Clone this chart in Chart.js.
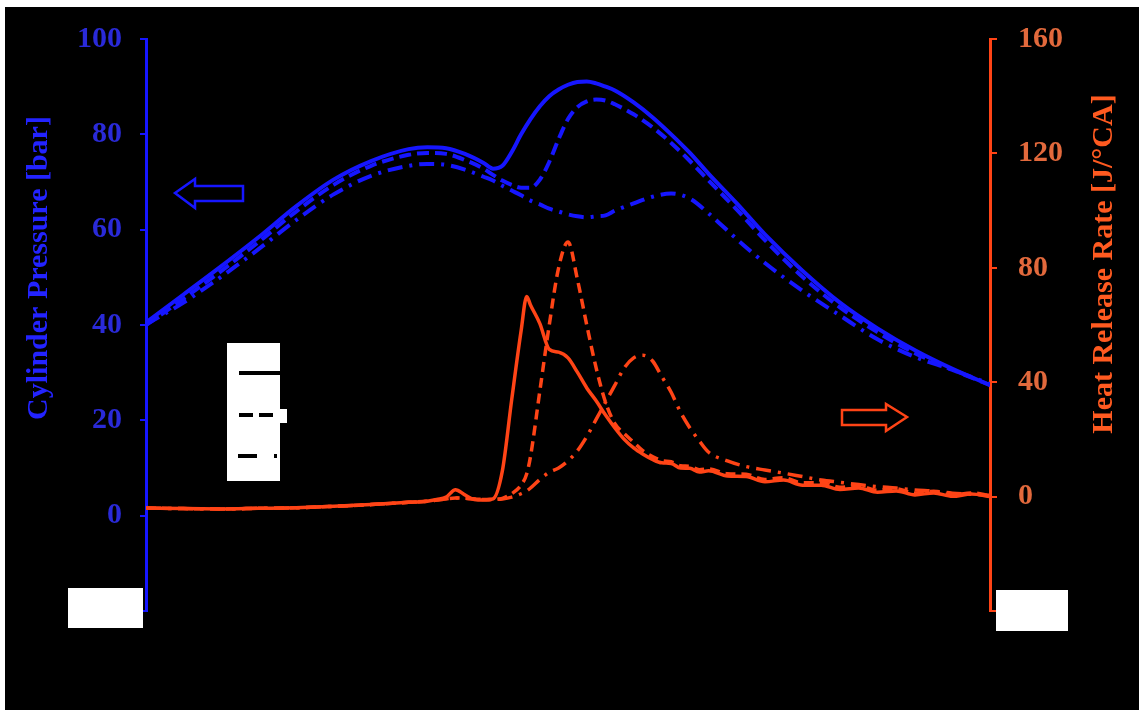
<!DOCTYPE html>
<html>
<head>
<meta charset="utf-8">
<script src="https://cdn.jsdelivr.net/npm/chart.js@4.4.1/dist/chart.umd.min.js"></script>
<style>
  html,body{margin:0;padding:0;background:#fff;}
  canvas{display:block;}
</style>
</head>
<body>
<canvas id="c" width="1139" height="710"></canvas>
<script>
// ---- data (crank angle in degrees) ----
const pressureAngle = [-30,-26,-22,-18,-14,-10,-6,-2,0,2,4,6,7,8,9,10,11,12,13,14,15,16,17,18,19,20,22,24,26,28,30,33,36,40,44,48,52,56,60];
const pressureSolid = [40.5,46.4,52.3,58.4,64.9,70.5,74.4,76.9,77.3,77.1,75.9,74.0,72.8,73.4,76.3,80.0,83.2,85.9,88.0,89.4,90.4,91.0,91.1,90.7,90.0,89.2,86.7,83.6,80.0,76.1,71.7,65.5,59.0,51.4,44.7,39.3,34.7,30.8,27.4];
const pressureDashed = [40.0,45.5,51.3,57.4,63.8,69.4,73.4,75.7,76.1,75.9,74.6,72.8,71.5,70.3,69.4,68.8,68.8,70.5,74.2,79.0,83.2,85.7,86.9,87.3,87.1,86.3,84.2,81.5,78.2,74.4,70.3,64.2,57.8,50.1,43.7,38.5,34.1,30.6,27.4];
const pressureDashDot = [40.1,44.7,50.1,55.9,62.0,67.4,71.3,73.4,73.8,73.6,72.6,71.1,70.3,69.2,68.2,67.2,66.1,65.3,64.4,63.8,63.2,62.8,62.6,62.8,63.0,64.0,65.5,66.9,67.6,66.5,63.4,58.0,53.0,47.2,42.0,37.0,33.3,30.6,27.6];

const hrrAngle = [-30,-26,-22,-18,-14,-10,-6,-2,0,1,2,3,4,5,6,7,8,9,10,10.6,11,12,13,14,15,16,17,18,19,20,21,22,23,24,25,26,27,28,29,30,32,34,36,38,40,42,44,46,48,50,52,54,56,58,60];
const hrrSolid = [-4.0,-4.2,-4.3,-4.1,-3.9,-3.4,-2.8,-2.0,-1.6,-1.0,-0.2,2.4,0.6,-1.0,-1.2,-0.8,9,34,58,70,67,60.5,51.5,50.5,48.5,43.5,38,33.5,28.5,24,20,17,14.8,13,11.8,11.6,10,9.9,8.6,9.0,7.2,7.0,5.2,5.8,4.0,4.0,2.5,3.0,1.5,2.0,0.6,1.3,0.1,0.9,0.0];
const hrrDashed = [-4.0,-4.2,-4.3,-4.1,-3.9,-3.4,-2.8,-2.0,-1.6,-1.2,-0.8,-0.5,-0.6,-0.8,-1.0,-1.0,-0.6,1.0,4.0,8,14,37,60,80,89,76,60,45,33,25.5,22,19,16,14,12.6,12.2,10.8,10.6,9.4,9.7,8.0,7.8,6.0,6.6,4.8,4.9,3.3,3.8,2.2,2.7,1.2,1.9,0.5,1.3,0.3];
const hrrDashDot = [-4.0,-4.2,-4.3,-4.1,-3.9,-3.4,-2.8,-2.0,-1.6,-1.2,-0.8,-0.5,-0.6,-0.8,-1.0,-1.0,-0.8,-0.2,1.0,2.0,3.0,6.0,8.5,10.0,12.5,16,21,27,33,39,45,48.5,49.4,47.5,42,36.5,29.5,24,19.5,15.5,12.5,10.5,9.3,8.2,7.0,5.8,5.0,4.2,3.5,3.0,2.3,1.9,1.2,0.8,0.5];

const pressureTicks = {min:-20, max:100, step:20};
const hrrTicks = {min:-40, max:160, step:40};
const leftTitle = 'Cylinder Pressure [bar]';
const rightTitle = 'Heat Release Rate [J/\u00B0CA]';

// ---- styles ----
const BLUE = '#1616ff';
const ORANGE = '#ff4416';
const FONT = "'Liberation Serif', 'Times New Roman', serif";

function pts(xs, ys){ return xs.map((x,i)=>({x:x, y:ys[i]})); }

function ds(label, xs, ys, axis, color, dash, width){
  return {label, data: pts(xs, ys), yAxisID: axis, borderColor: color, borderWidth: width,
    borderDash: dash, pointRadius: 0, fill: false, cubicInterpolationMode: 'monotone'};
}

const decor = {
  id: 'decor',
  beforeDraw(chart){
    const c = chart.ctx;
    c.save();
    c.fillStyle = '#000';
    c.fillRect(5, 7, chart.width - 5, chart.height - 7);
    c.restore();
  },
  afterDraw(chart){
    const c = chart.ctx;
    c.save();
    // white boxes over the end labels
    c.fillStyle = '#fff';
    c.fillRect(68, 588, 75, 40);
    c.fillRect(996, 590, 72, 41);
    // legend box
    c.fillRect(227, 343, 53, 138);
    c.fillRect(280, 409, 7, 14);
    c.strokeStyle = '#000';
    c.lineWidth = 4;
    c.beginPath(); c.setLineDash([]); c.moveTo(239, 373); c.lineTo(280, 373); c.stroke();
    c.beginPath(); c.setLineDash([14, 6]); c.moveTo(239, 415); c.lineTo(274, 415); c.stroke();
    c.beginPath(); c.setLineDash([19, 17, 3, 20]); c.moveTo(238, 456); c.lineTo(280, 456); c.stroke();
    c.setLineDash([]);
    // left arrow (blue)
    c.lineWidth = 2.5;
    c.strokeStyle = BLUE;
    c.beginPath();
    c.moveTo(175, 193); c.lineTo(195, 179); c.lineTo(195, 186); c.lineTo(243, 186);
    c.lineTo(243, 201); c.lineTo(195, 201); c.lineTo(195, 208); c.closePath(); c.stroke();
    // right arrow (orange)
    c.strokeStyle = ORANGE;
    c.beginPath();
    c.moveTo(907, 417); c.lineTo(886, 404); c.lineTo(886, 410); c.lineTo(842, 410);
    c.lineTo(842, 425); c.lineTo(886, 425); c.lineTo(886, 431); c.closePath(); c.stroke();
    // axis titles
    c.font = 'bold 30px ' + FONT;
    c.textAlign = 'center';
    c.textBaseline = 'alphabetic';
    c.fillStyle = '#2323ff';
    c.translate(47, 268); c.rotate(-Math.PI/2); c.fillText(leftTitle, 0, 0);
    c.setTransform(1,0,0,1,0,0);
    c.fillStyle = '#ff5a20';
    c.translate(1112, 264); c.rotate(-Math.PI/2); c.fillText(rightTitle, 0, 0);
    c.restore();
  }
};

new Chart(document.getElementById('c'), {
  type: 'line',
  data: {
    datasets: [
      ds('P solid', pressureAngle, pressureSolid, 'yP', BLUE, [], 4),
      ds('P dashed', pressureAngle, pressureDashed, 'yP', BLUE, [12, 6], 4),
      ds('P dash-dot', pressureAngle, pressureDashDot, 'yP', BLUE, [15, 7, 3, 7], 4),
      ds('HRR solid', hrrAngle, hrrSolid, 'yH', ORANGE, [], 3.5),
      ds('HRR dashed', hrrAngle, hrrDashed, 'yH', ORANGE, [10, 6], 3.5),
      ds('HRR dash-dot', hrrAngle, hrrDashDot, 'yH', ORANGE, [15, 7, 3, 7], 3.5)
    ]
  },
  options: {
    responsive: false,
    animation: false,
    devicePixelRatio: 1,
    layout: {padding: {top: 34, bottom: 99, left: 0, right: 0}},
    plugins: {legend: {display: false}, tooltip: {enabled: false}},
    scales: {
      x: {type: 'linear', min: -30, max: 60, display: false},
      yP: {
        position: 'left', min: pressureTicks.min, max: pressureTicks.max,
        ticks: {stepSize: pressureTicks.step, color: '#2a2ad8', padding: 18,
          font: {family: FONT, size: 30, weight: 'bold'},
          callback: v => v < 0 ? '' : v},
        grid: {drawOnChartArea: false, drawTicks: true, tickLength: 6, color: BLUE, lineWidth: 2},
        border: {display: true, color: BLUE, width: 3},
        afterFit(s){ s.width = 146; }
      },
      yH: {
        position: 'right', min: hrrTicks.min, max: hrrTicks.max,
        ticks: {stepSize: hrrTicks.step, color: '#e2693c', padding: 21,
          font: {family: FONT, size: 30, weight: 'bold'},
          callback: v => v < 0 ? '' : v},
        grid: {drawOnChartArea: false, drawTicks: true, tickLength: 7, color: ORANGE, lineWidth: 2},
        border: {display: true, color: ORANGE, width: 3},
        afterFit(s){ s.width = 149; }
      }
    }
  },
  plugins: [decor]
});
</script>
</body>
</html>
